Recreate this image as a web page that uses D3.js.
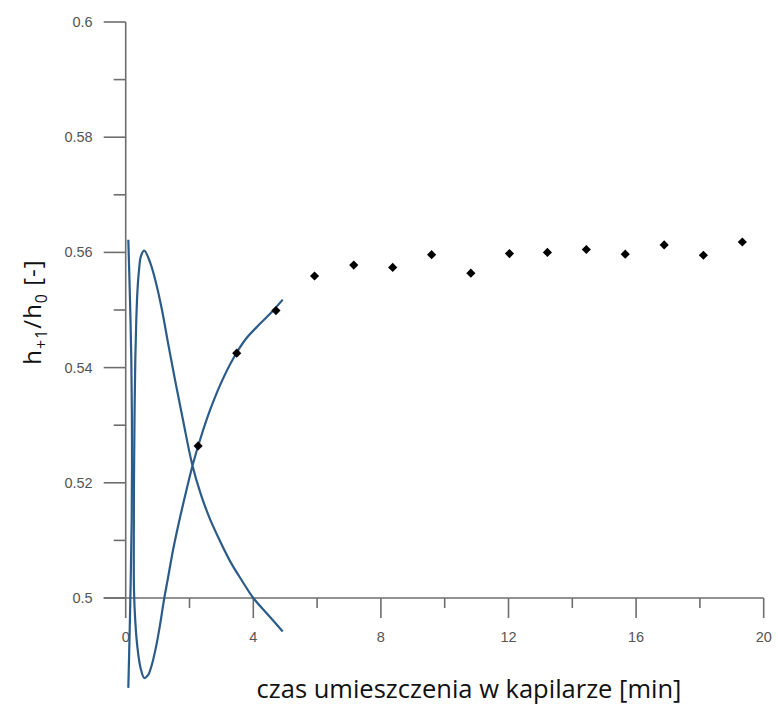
<!DOCTYPE html>
<html>
<head>
<meta charset="utf-8">
<script src="https://cdnjs.cloudflare.com/ajax/libs/d3/7.8.5/d3.min.js"></script>
<style>
  body { margin: 0; background: #fff; }
  svg { display: block; }
</style>
</head>
<body>
<svg id="chart" width="777" height="707"></svg>
<script>
// measured points (czas [min], h+1/h0)
var pointX = [2.27, 3.48, 4.71, 5.92, 7.15, 8.37, 9.59, 10.82, 12.03, 13.22, 14.44, 15.66, 16.88, 18.11, 19.33];
var pointY = [0.5264, 0.5425, 0.5499, 0.5559, 0.5578, 0.5574, 0.5596, 0.5564, 0.5598, 0.5600, 0.5605, 0.5597, 0.5613, 0.5595, 0.5618];

// fitted curve drawn in the figure
var curveAX = [0.082, 0.135, 0.176, 0.197, 0.188, 0.157, 0.125, 0.082];
var curveAY = [0.5622, 0.5517, 0.5413, 0.5274, 0.5135, 0.5031, 0.4944, 0.4844];

var curveBX = [4.922, 4.461, 4.000, 3.646, 3.301, 2.956, 2.643, 2.361, 2.088, 1.796, 1.545, 1.326, 1.138, 0.950, 0.762, 0.583,
               0.480, 0.417, 0.370, 0.332, 0.301, 0.276, 0.260, 0.254, 0.260, 0.298, 0.370, 0.464, 0.583,
               0.699, 0.824, 0.950, 1.075, 1.201, 1.326, 1.483, 1.671, 1.890, 2.110, 2.361, 2.643, 2.987, 3.364, 3.771, 4.210, 4.586, 4.922];
var curveBY = [0.4942, 0.4971, 0.5000, 0.5030, 0.5061, 0.5099, 0.5137, 0.5179, 0.5231, 0.5309, 0.5379, 0.5443, 0.5500, 0.5547, 0.5583, 0.5603,
               0.5594, 0.5569, 0.5535, 0.5483, 0.5413, 0.5309, 0.5205, 0.5101, 0.5014, 0.4962, 0.4913, 0.4879, 0.4861,
               0.4866, 0.4885, 0.4915, 0.4953, 0.4997, 0.5035, 0.5083, 0.5132, 0.5184, 0.5233, 0.5280, 0.5326, 0.5373, 0.5415, 0.5450, 0.5476, 0.5497, 0.5518];

var xTicks = [0, 4, 8, 12, 16, 20];
var xMinor = [2, 6, 10, 14, 18];
var yTicks = [0.5, 0.52, 0.54, 0.56, 0.58, 0.6];
var yMinor = [0.51, 0.53, 0.55, 0.57, 0.59];

var AXIS_COLOR = "#6e6e6e";
var LABEL_COLOR = "#555";
var CURVE_COLOR = "#2b5b89";

var svg = d3.select("#chart");

var x = d3.scaleLinear().domain([0, 20]).range([125.7, 763.7]);
var y = d3.scaleLinear().domain([0.5, 0.6]).range([598, 22]);

// y axis
var yAxis = svg.append("g").attr("transform", "translate(" + x(0) + ",0)");
yAxis.append("line")
  .attr("y1", y(0.6)).attr("y2", y(0.5))
  .attr("stroke", AXIS_COLOR).attr("stroke-width", 1.6);
yAxis.selectAll(".major").data(yTicks).enter().append("line")
  .attr("x1", -22).attr("x2", 0)
  .attr("y1", function(d) { return y(d); }).attr("y2", function(d) { return y(d); })
  .attr("stroke", AXIS_COLOR).attr("stroke-width", 1.6);
yAxis.selectAll(".minor").data(yMinor).enter().append("line")
  .attr("x1", -12).attr("x2", 0)
  .attr("y1", function(d) { return y(d); }).attr("y2", function(d) { return y(d); })
  .attr("stroke", AXIS_COLOR).attr("stroke-width", 1.6);
yAxis.selectAll(".lab").data(yTicks).enter().append("text")
  .attr("x", -33).attr("y", function(d) { return y(d); })
  .attr("dy", "0.35em")
  .attr("text-anchor", "end")
  .style("font-family", "Liberation Sans, Arial, sans-serif")
  .style("font-size", "14.5px")
  .style("fill", LABEL_COLOR)
  .text(function(d) { return +d.toFixed(2); });

// x axis
var xAxis = svg.append("g").attr("transform", "translate(0," + y(0.5) + ")");
xAxis.append("line")
  .attr("x1", x(0) - 22).attr("x2", x(20))
  .attr("stroke", AXIS_COLOR).attr("stroke-width", 1.6);
xAxis.selectAll(".major").data(xTicks).enter().append("line")
  .attr("x1", function(d) { return x(d); }).attr("x2", function(d) { return x(d); })
  .attr("y1", 0).attr("y2", 20)
  .attr("stroke", AXIS_COLOR).attr("stroke-width", 1.6);
xAxis.selectAll(".minor").data(xMinor).enter().append("line")
  .attr("x1", function(d) { return x(d); }).attr("x2", function(d) { return x(d); })
  .attr("y1", 0).attr("y2", 10)
  .attr("stroke", AXIS_COLOR).attr("stroke-width", 1.6);
xAxis.selectAll(".lab").data(xTicks).enter().append("text")
  .attr("x", function(d) { return x(d); }).attr("y", 39)
  .attr("dy", "0.35em")
  .attr("text-anchor", "middle")
  .style("font-family", "Liberation Sans, Arial, sans-serif")
  .style("font-size", "14.5px")
  .style("fill", LABEL_COLOR)
  .text(function(d) { return d; });

// fitted curves
var line = d3.line()
  .x(function(d) { return x(d[0]); })
  .y(function(d) { return y(d[1]); })
  .curve(d3.curveCatmullRom.alpha(0.5));

svg.append("path")
  .datum(d3.zip(curveAX, curveAY))
  .attr("d", line)
  .attr("fill", "none").attr("stroke", CURVE_COLOR).attr("stroke-width", 2.2);
svg.append("path")
  .datum(d3.zip(curveBX, curveBY))
  .attr("d", line)
  .attr("fill", "none").attr("stroke", CURVE_COLOR).attr("stroke-width", 2.2);

// points
var diamond = d3.symbol().type(d3.symbolSquare).size(42);
svg.selectAll(".pt").data(d3.zip(pointX, pointY)).enter().append("path")
  .attr("d", diamond)
  .attr("transform", function(d) { return "translate(" + x(d[0]) + "," + y(d[1]) + ") rotate(45)"; })
  .attr("fill", "#000");

// axis titles
svg.append("text")
  .attr("x", 469).attr("y", 698)
  .attr("text-anchor", "middle")
  .style("font-family", "Open Sans, sans-serif")
  .style("font-size", "25.5px")
  .style("fill", "#111")
  .text("czas umieszczenia w kapilarze [min]");

var yTitle = svg.append("text")
  .attr("transform", "translate(41,312) rotate(-90)")
  .attr("text-anchor", "middle")
  .style("font-family", "Open Sans, sans-serif")
  .style("font-size", "24px")
  .style("letter-spacing", "1px")
  .style("fill", "#111");
yTitle.append("tspan").text("h");
yTitle.append("tspan").attr("dy", 6).style("font-size", "16px").text("+1");
yTitle.append("tspan").attr("dy", -6).text("/h");
yTitle.append("tspan").attr("dy", 6).style("font-size", "16px").text("0");
yTitle.append("tspan").attr("dy", -6).text(" [-]");
</script>
</body>
</html>
